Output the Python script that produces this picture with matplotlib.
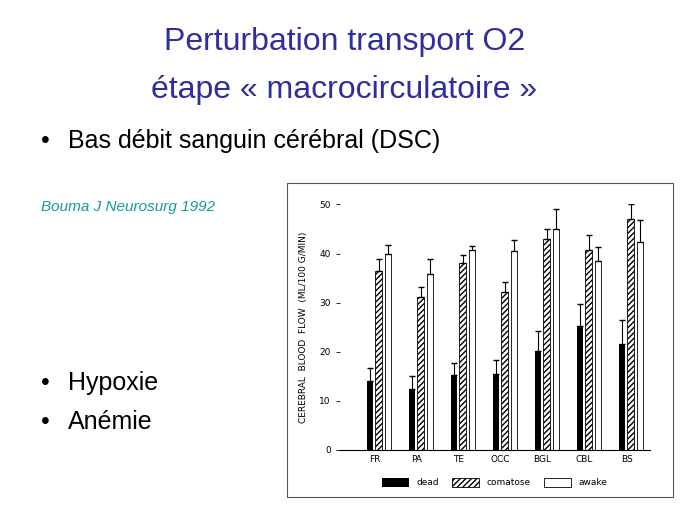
import matplotlib.pyplot as plt
import numpy as np
from matplotlib.patches import Rectangle

regions = ["FR", "PA", "TE", "OCC", "BGL", "CBL", "BS"]
dead = [14.0, 12.5, 15.3, 15.4, 20.2, 25.2, 21.6]
dead_err = [2.7, 2.5, 2.5, 2.9, 4.0, 4.5, 4.8]
comatose = [36.5, 31.2, 38.0, 32.2, 43.0, 40.7, 47.0]
comatose_err = [2.3, 2.0, 1.8, 2.1, 2.0, 3.0, 3.0]
awake = [40.0, 35.8, 40.8, 40.6, 45.0, 38.4, 42.3]
awake_err = [1.7, 3.0, 0.8, 2.1, 4.0, 3.0, 4.5]

fig = plt.figure(figsize=(6.89, 5.17), dpi=100)
title_c = "#2e2e9e"
fig.text(0.5, 0.918, "Perturbation transport O2", ha="center", va="center", fontsize=23, color=title_c, family="Liberation Sans")
fig.text(0.5, 0.826, "étape « macrocirculatoire »", ha="center", va="center", fontsize=23, color=title_c, family="Liberation Sans")

fig.text(0.06, 0.728, "•", fontsize=18, va="center", family="Liberation Sans")
fig.text(0.098, 0.728, "Bas débit sanguin cérébral (DSC)", fontsize=18, va="center", family="Liberation Sans")
fig.text(0.06, 0.60, "Bouma J Neurosurg 1992", fontsize=11, style="italic", color="#169a9a", va="center", family="Liberation Sans")
for yy, txt in [(0.26, "Hypoxie"), (0.183, "Anémie")]:
    fig.text(0.06, yy, "•", fontsize=18, va="center", family="Liberation Sans")
    fig.text(0.098, yy, txt, fontsize=18, va="center", family="Liberation Sans")

# frame around the scanned figure
fig.patches.append(Rectangle((287 / 689, 1 - 497 / 517), 386 / 689, 314 / 517,
                             transform=fig.transFigure, fill=False, edgecolor="#555555", lw=0.8))

ax = fig.add_axes([0.493, 0.1296, 0.45, 0.475])
x = np.arange(len(regions))
w = 0.15
ek = dict(ecolor="black", elinewidth=0.8, capsize=2)
ax.bar(x - 0.11, dead, w, color="black", yerr=[np.zeros(7), dead_err], error_kw=ek, label="dead")
ax.bar(x + 0.095, comatose, w, color="white", edgecolor="black", hatch="//////", lw=0.6,
       yerr=[np.zeros(7), comatose_err], error_kw=ek, label="comatose")
ax.bar(x + 0.32, awake, w, color="white", edgecolor="black", lw=0.6,
       yerr=[np.zeros(7), awake_err], error_kw=ek, label="awake")
ax.set_xlim(-0.83, 6.55)
ax.set_ylim(0, 50)
ax.set_yticks(range(0, 51, 10))
ax.set_xticks(x)
ax.set_xticklabels(regions)
ax.tick_params(labelsize=6.5, length=3, width=0.6)
ax.tick_params(axis="x", length=0)
for s in ["top", "right"]:
    ax.spines[s].set_visible(False)
ax.spines["left"].set_visible(False)
ax.spines["bottom"].set_linewidth(0.8)
ax.set_ylabel("CEREBRAL  BLOOD  FLOW  (ML/100 G/MIN)", fontsize=6.5, labelpad=8)
ax.legend(loc="upper center", bbox_to_anchor=(0.5, -0.08), ncol=3, frameon=False, fontsize=6.5,
          handlelength=3, handleheight=1.2, columnspacing=1.5)
fig.savefig("out.png", dpi=100)
